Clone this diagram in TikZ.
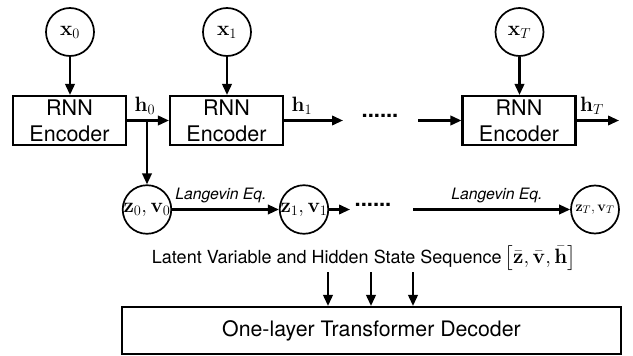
\documentclass[tikz,border=0pt]{standalone}
\usepackage{amsmath}
\usepackage[no-math]{fontspec}
\setmainfont{TeX Gyre Heros}
\usetikzlibrary{arrows.meta,calc}
\begin{document}
\begin{tikzpicture}[x=1pt,y=-1pt,
  enc/.style={draw,line width=2.1pt,minimum width=113pt,minimum height=49pt,align=center,inner sep=0pt,font=\fontsize{21.5}{26}\selectfont},
  var/.style={draw,circle,line width=1.7pt,minimum size=48pt,inner sep=0pt,font=\fontsize{21}{25}\selectfont},
  arr/.style={-{Triangle[length=11pt,width=9.5pt]},line width=2.2pt},
  lab/.style={inner sep=0pt,font=\fontsize{21}{25}\selectfont},
  lang/.style={inner sep=0pt,font=\fontsize{15.7}{18}\selectfont\itshape},
  dotsty/.style={inner sep=0pt,font=\fontsize{22}{25}\selectfont\bfseries},
  seq/.style={inner sep=0pt,font=\fontsize{18}{22}\selectfont},
  dec/.style={draw,line width=2.1pt,minimum width=499pt,minimum height=47pt,inner sep=0pt,font=\fontsize{21.3}{25}\selectfont}]
\useasboundingbox (0,0) rectangle (633,356);
% inputs
\node[var] (x0) at (70,32) {$\mathbf{x}_0$};
\node[var] (x1) at (227,32) {$\mathbf{x}_1$};
\node[var] (xT) at (519.5,32) {$\mathbf{x}_T$};
% encoders
\node[enc] (e0) at (69.5,120.5) {RNN\\Encoder};
\node[enc] (e1) at (226.5,120.5) {RNN\\Encoder};
\node[enc] (eT) at (519,120.5) {RNN\\Encoder};
\draw[arr] (x0.south) -- (x0.south |- e0.north);
\draw[arr] (x1.south) -- (x1.south |- e1.north);
\draw[arr] (xT.south) -- (xT.south |- eT.north);
% hidden states
\draw[arr] (e0.east) -- (e1.west);
\node[lab] (h0) at (145,106) {$\mathbf{h}_0$};
\coordinate (h1end) at (343,120.5);
\draw[arr] (e1.east) -- (h1end);
\node[lab] (h1) at (302,106) {$\mathbf{h}_1$};
\node[dotsty] (d1) at (380,116) {......};
\coordinate (hTstart) at (418,120.5);
\draw[arr] (hTstart) -- (eT.west);
\coordinate (hTend) at (619,120.5);
\draw[arr] (eT.east) -- (hTend);
\node[lab] (hT) at (592,106) {$\mathbf{h}_T$};
% latent variables
\node[var,font=\fontsize{19.5}{22}\selectfont] (z0) at (147,209.5) {$\mathbf{z}_0,\mathbf{v}_0$};
\node[var,font=\fontsize{19.5}{22}\selectfont] (z1) at (304,209.5) {$\mathbf{z}_1,\mathbf{v}_1$};
\node[var,font=\fontsize{15}{18}\selectfont] (zT) at (595,209.5) {$\mathbf{z}_T,\mathbf{v}_T$};
\coordinate (br) at (z0 |- e0.east);
\draw[arr] (br) -- (z0.north);
\draw[arr] (z0.east) -- (z1.west);
\node[lang] (l1) at (221,195) {Langevin Eq.};
\coordinate (z1end) at (350,209.5);
\draw[arr] (z1.east) -- (z1end);
\node[dotsty] (d2) at (373,205) {......};
\coordinate (zTstart) at (413,209.5);
\draw[arr] (zTstart) -- (zT.west);
\node[lang] (l2) at (497,195) {Langevin Eq.};
\node[seq] (sq) at (364,258) {Latent Variable and Hidden State Sequence\,{\fontsize{20}{24}\selectfont$\bigl[\bar{\mathbf{z}},\bar{\mathbf{v}},\bar{\mathbf{h}}\bigr]$}};
% decoder
\node[dec] (dc) at (371.5,330.5) {One-layer Transformer Decoder};
\coordinate (i1) at (328,272);
\coordinate (i2) at (371,272);
\coordinate (i3) at (413,272);
\draw[arr] (i1) -- (i1 |- dc.north);
\draw[arr] (i2) -- (i2 |- dc.north);
\draw[arr] (i3) -- (i3 |- dc.north);
\end{tikzpicture}
\end{document}
